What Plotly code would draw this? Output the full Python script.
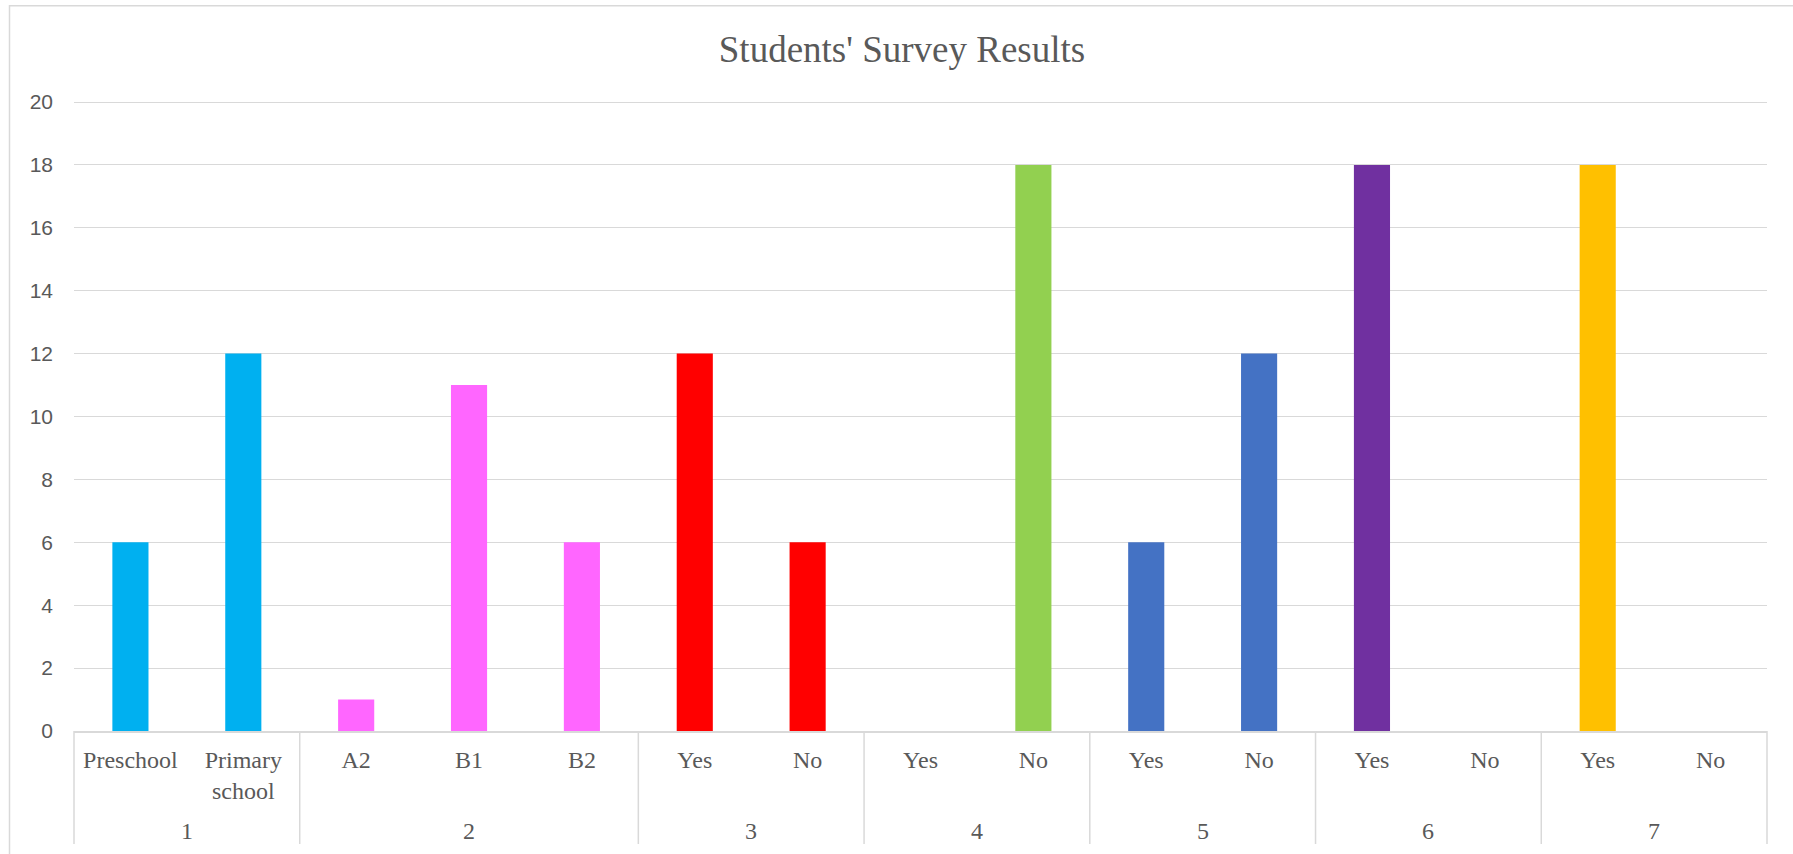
import plotly.graph_objects as go

# ---- data ----
groups = ["1", "1", "2", "2", "2", "3", "3", "4", "4", "5", "5", "6", "6", "7", "7"]
labels = ["Preschool", "Primary<br>school", "A2", "B1", "B2", "Yes", "No", "Yes", "No",
          "Yes", "No", "Yes", "No", "Yes", "No"]
values = [6, 12, 1, 11, 6, 12, 6, 0, 18, 6, 12, 18, 0, 18, 0]
group_colors = {"1": "#00B0F0", "2": "#FF66FF", "3": "#FF0000", "4": "#92D050",
                "5": "#4472C4", "6": "#7030A0", "7": "#FFC000"}
y_ticks = [0, 2, 4, 6, 8, 10, 12, 14, 16, 18, 20]
title_text = "Students' Survey Results"

W, H = 1793, 854
ML, MR, MT, MB = 74, 26, 89, 123
PW, PH = W - ML - MR, H - MT - MB
# y=20 sits at 102 px from the top
px_per_unit = (H - MB - 102) / 20.0
y_top = (H - MB - MT) / px_per_unit

xs = list(range(len(labels)))
colors = [group_colors[g] for g in groups]

fig = go.Figure(go.Bar(x=xs, y=values, marker=dict(color=colors, line=dict(width=0)),
                       width=0.32, hoverinfo="skip"))

grid = "#d9d9d9"
txt = "#595959"
serif = "Liberation Serif, Times New Roman, serif"

fig.update_layout(
    width=W, height=H, autosize=False,
    margin=dict(l=ML, r=MR, t=MT, b=MB, pad=0),
    paper_bgcolor="white", plot_bgcolor="white",
    showlegend=False,
    title=dict(text=title_text, x=902 / W, xanchor="center", xref="container",
               y=1 - 49 / H, yanchor="middle", yref="container",
               font=dict(family=serif, size=37, color=txt)),
    xaxis=dict(range=[-0.5, len(labels) - 0.5], tickvals=xs, ticktext=labels,
               tickfont=dict(family=serif, size=24, color=txt), ticks="",
               showgrid=False, zeroline=False, showline=True, linecolor=grid, linewidth=1.5,
               ticklabelstandoff=6, fixedrange=True),
    yaxis=dict(range=[0, y_top], tickvals=y_ticks, ticks="", showgrid=True, gridcolor=grid,
               gridwidth=1.3, zeroline=False, showline=False,
               tickfont=dict(family="Liberation Sans, Arial, sans-serif", size=21, color=txt),
               ticklabelstandoff=20, fixedrange=True),
)

shapes = []
# group separators below axis
bounds = [0]
for i in range(1, len(groups)):
    if groups[i] != groups[i - 1]:
        bounds.append(i)
bounds.append(len(groups))
sep_bottom = -(844 - (H - MB)) / PH
for b in bounds:
    xp = b / len(groups)
    shapes.append(dict(type="line", xref="paper", yref="paper", x0=xp, x1=xp,
                       y0=0, y1=sep_bottom, line=dict(color=grid, width=1.5)))
# outer chart border
shapes.append(dict(type="rect", xref="paper", yref="paper",
                   x0=(9.5 - ML) / PW, x1=(W + 20 - ML) / PW,
                   y0=(H - MB - 5.7) / PH, y1=-(MB + 20) / PH,
                   line=dict(color=grid, width=1.5), fillcolor="rgba(0,0,0,0)", layer="below"))
fig.update_layout(shapes=shapes)

# group labels
ann = []
for k in range(len(bounds) - 1):
    a, b = bounds[k], bounds[k + 1]
    ann.append(dict(x=(a + b - 1) / 2, xref="x", y=-(816 - (H - MB)) / PH, yref="paper",
                    text=groups[a], showarrow=False, yanchor="top", xanchor="center",
                    font=dict(family=serif, size=24, color=txt)))
fig.update_layout(annotations=ann)

fig.write_html("out.html")
